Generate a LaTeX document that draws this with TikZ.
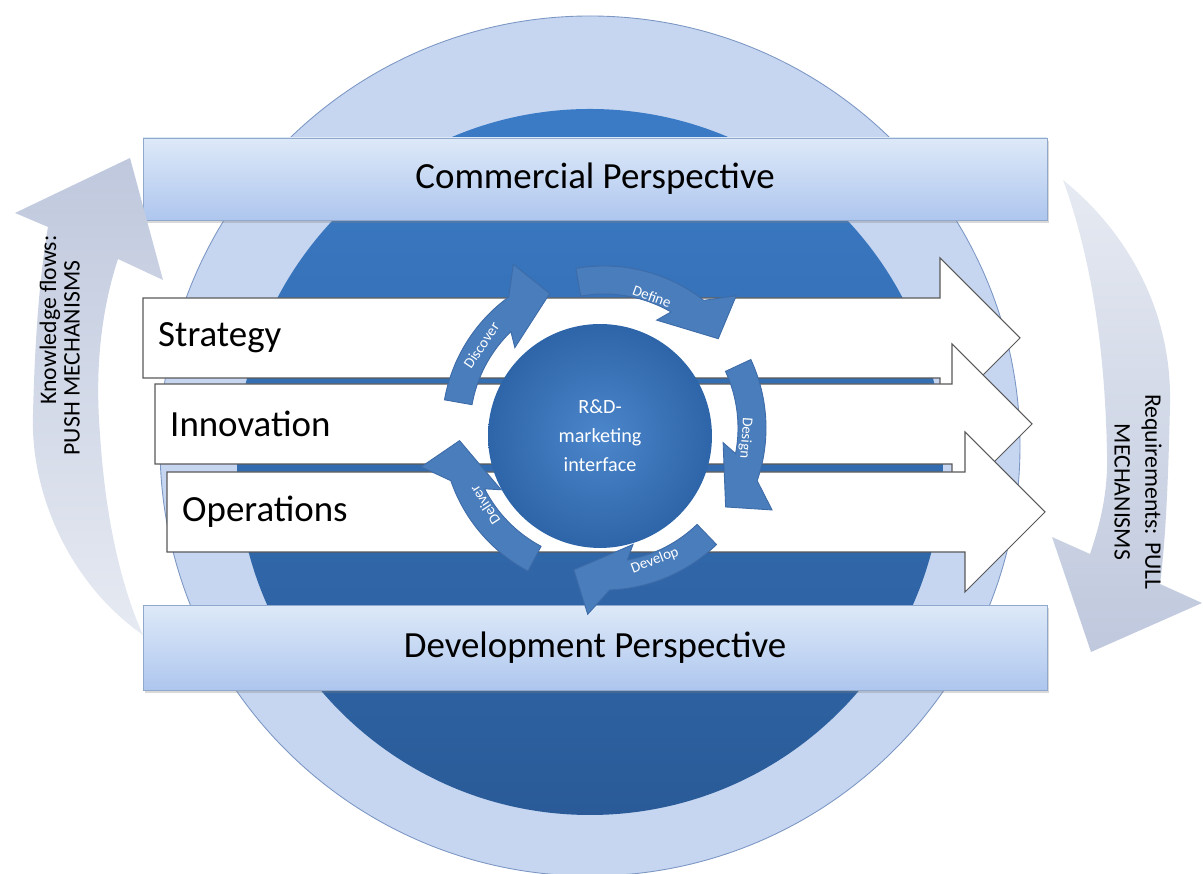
\documentclass[tikz,border=0pt]{standalone}
\usepackage{fontspec}
\setmainfont{Carlito}
\usetikzlibrary{shadows}

\definecolor{ringfill}{HTML}{C6D6F1}
\definecolor{ringline}{HTML}{7C97C4}
\definecolor{coretop}{HTML}{3B7BC6}
\definecolor{corebot}{HTML}{2A5B98}
\definecolor{bartop}{HTML}{DDE9F8}
\definecolor{barbot}{HTML}{AEC6EE}
\definecolor{barline}{HTML}{8FA8CC}
\definecolor{cycfill}{HTML}{4A7DBB}
\definecolor{cycline}{HTML}{3D6BA8}
\definecolor{rdin}{HTML}{4C86CB}
\definecolor{rdout}{HTML}{2E65A8}
\definecolor{flowdark}{HTML}{BFC8DD}
\definecolor{flowlight}{HTML}{E6EAF2}

\begin{document}
\begin{tikzpicture}[x=0.02cm, y=0.02cm,
    bar/.style={draw=barline, top color=bartop, bottom color=barbot,
        minimum width=18.08cm, minimum height=1.64cm,
        drop shadow={opacity=0.3, shadow xshift=1pt, shadow yshift=-1.5pt},
        font=\fontsize{21}{25}\selectfont},
    lane/.style={font=\fontsize{21}{25}\selectfont},
    flow/.style={draw=black!65, fill=white, line width=0.6pt},
    cyc/.style={draw=cycline, fill=cycfill, line width=0.5pt},
    cyclbl/.style={text=white, font=\fontsize{8.5}{9}\selectfont, inner sep=0pt},
    side/.style={font=\fontsize{13.5}{17.5}\selectfont, inner sep=0pt}]

    \useasboundingbox (0,0) rectangle (1203,874);

    % Outer ring and inner disc
    \filldraw[fill=ringfill, draw=ringline, line width=0.5pt] (590,428) circle (430);
    \shade[top color=coretop, bottom color=corebot] (590,412) circle (353);

    % Perspective bars
    \node[bar] (comm) at (595,695) {Commercial Perspective};
    \node[bar, minimum height=1.7cm] (dev) at (595,226) {Development Perspective};

    % White lane arrows
    \foreach \nm/\txt/\xl/\xh/\yc in {strat/Strategy/143/940/536,
                                      innov/Innovation/155/952/450,
                                      oper/Operations/167/965/362}{
        \draw[flow] (\xl,\yc-40) -- (\xh,\yc-40) -- (\xh,\yc-80) -- (\xh+80,\yc)
            -- (\xh,\yc+80) -- (\xh,\yc+40) -- (\xl,\yc+40) -- cycle;
        \node[lane, anchor=west] (\nm) at (\xl+9,\yc) {\txt};
    }

    % Cycle around the interface
    \begin{scope}[shift={(604,446)}]
        \foreach \a/\b in {170/112, 100/38, 25/-33, -46/-102, -118/-175}{
            \draw[cyc] (\a:162) arc[start angle=\a, end angle=\b+14, radius=162]
                -- (\b+7:187) -- (\b:145) -- (\b+26:120) -- (\b+22:134)
                arc[start angle=\b+22, end angle=\a, radius=134] -- cycle;
        }
        \node[cyclbl, rotate=56] (disc) at (146:148) {Discover};
        \node[cyclbl, rotate=-20] (defn) at (70:140) {Define};
        \node[cyclbl, rotate=-94] (desg) at (-4:142) {Design};
        \node[cyclbl, rotate=21] (devl) at (-69:142) {Develop};
        \node[cyclbl, rotate=123] (delv) at (-147:142) {Deliver};
    \end{scope}

    \node[circle, minimum size=4.48cm, inner color=rdin, outer color=rdout,
          text=white, align=center, font=\fontsize{11.5}{16.5}\selectfont]
        (rd) at (600,438) {R\&D-\\marketing\\interface};

    % Push mechanisms (left)
    \shade[top color=flowdark, bottom color=flowlight]
        (143,239) .. controls (70,290) and (30,380) .. (33,460)
        .. controls (35,540) and (40,600) .. (48,647)
        -- (15,661) -- (130,716) -- (163,594) -- (118,615)
        .. controls (100,560) and (95,500) .. (100,440)
        .. controls (105,360) and (120,290) .. (143,239) -- cycle;
    \node[side, rotate=90] (push1) at (50,554) {Knowledge flows:};
    \node[side, rotate=90] (push2) at (72,516) {PUSH MECHANISMS};

    % Pull mechanisms (right)
    \shade[top color=flowlight, bottom color=flowdark]
        (1063,694) .. controls (1130,640) and (1172,560) .. (1170,470)
        .. controls (1168,380) and (1165,330) .. (1160,290)
        -- (1202,271) -- (1091,222) -- (1052,337) -- (1090,320)
        .. controls (1100,350) and (1108,380) .. (1107,420)
        .. controls (1105,530) and (1090,620) .. (1063,694) -- cycle;
    \node[side, rotate=-90, align=center] (pull) at (1138,382) {Requirements: PULL\\MECHANISMS};
\end{tikzpicture}
\end{document}
